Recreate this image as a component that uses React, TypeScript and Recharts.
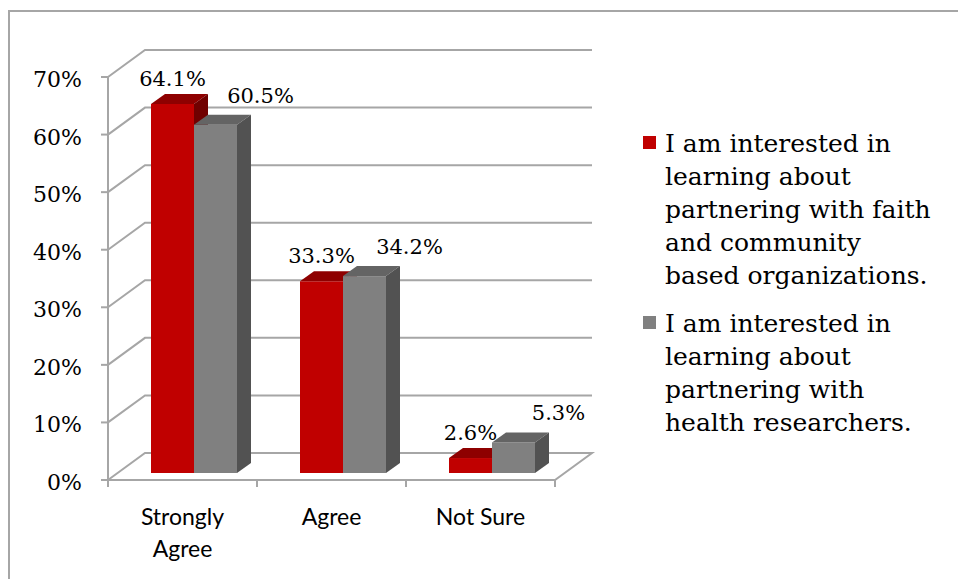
import { BarChart, Bar, XAxis, YAxis, CartesianGrid, Legend, LabelList } from "recharts";

const categories = ["Strongly\nAgree", "Agree", "Not Sure"];
const faithValues = [64.1, 33.3, 2.6];
const researchValues = [60.5, 34.2, 5.3];
const yTicks = [0, 10, 20, 30, 40, 50, 60, 70];
const faithLegend = [
  "I am interested in",
  "learning about",
  "partnering with faith",
  "and community",
  "based organizations.",
];
const researchLegend = [
  "I am interested in",
  "learning about",
  "partnering with",
  "health researchers.",
];

const data = categories.map((name, i) => ({
  name,
  faith: faithValues[i],
  research: researchValues[i],
}));

// layout of the fake 3d box
const PLOT_LEFT = 108;
const PLOT_RIGHT = 555;
const PLOT_TOP = 77;
const PLOT_BOTTOM = 480;
const BAND = (PLOT_RIGHT - PLOT_LEFT) / categories.length;
const WALL_DX = 37;
const WALL_DY = 27;
const BAR_SHIFT_X = 11;
const BAR_SHIFT_Y = 7;
const BAR_DX = 14;
const BAR_DY = 10;
const GRID = "#a6a6a6";
const SERIF = "'DejaVu Serif', serif";

const colors = {
  faith: { front: "#c00000", top: "#8e0000", side: "#700000" },
  research: { front: "#808080", top: "#646464", side: "#525252" },
};

const bar3d = (c: { front: string; top: string; side: string }) => (props: any) => {
  const { x, y, width, height } = props;
  if (height == null || width == null) return null;
  const fx = x + BAR_SHIFT_X;
  const fy = y - BAR_SHIFT_Y;
  const top = `${fx},${fy} ${fx + BAR_DX},${fy - BAR_DY} ${fx + width + BAR_DX},${fy - BAR_DY} ${fx + width},${fy}`;
  const side = `${fx + width},${fy} ${fx + width + BAR_DX},${fy - BAR_DY} ${fx + width + BAR_DX},${fy - BAR_DY + height} ${fx + width},${fy + height}`;
  return (
    <g>
      <rect x={fx} y={fy} width={width} height={height} fill={c.front} />
      <polygon points={top} fill={c.top} />
      <polygon points={side} fill={c.side} />
    </g>
  );
};

const valueLabel = (dx: number, lift: number) => (props: any) => {
  const { x, y, width, value } = props;
  return (
    <text
      x={x + BAR_SHIFT_X + width / 2 + dx}
      y={y - BAR_SHIFT_Y - BAR_DY - lift}
      textAnchor="middle"
      fontFamily={SERIF}
      fontSize={21}
      fill="#000"
    >
      {value.toFixed(1)}%
    </text>
  );
};

const gridLine = (props: any) => {
  const { x1, x2, y1, key } = props;
  if (Math.abs(y1 - PLOT_BOTTOM) < 0.5) {
    const d = `M${x1},${y1} L${x1 + WALL_DX},${y1 - WALL_DY} L${x2 + WALL_DX},${y1 - WALL_DY} L${x2},${y1} Z`;
    return <path key={key} d={d} fill="none" stroke={GRID} strokeWidth={2} />;
  }
  const pts = `${x1},${y1} ${x1 + WALL_DX},${y1 - WALL_DY} ${x2 + WALL_DX},${y1 - WALL_DY}`;
  return <polyline key={key} points={pts} fill="none" stroke={GRID} strokeWidth={2} />;
};

const YTick = (props: any) => {
  const { x, y, payload } = props;
  return (
    <text x={x} y={y + 10} textAnchor="end" fontFamily={SERIF} fontSize={22} fill="#000">
      {payload.value}%
    </text>
  );
};

const XTick = (props: any) => {
  const { x, y, payload, index } = props;
  const lines = String(payload.value).split("\n");
  return (
    <g>
      <line x1={x - BAND / 2} y1={y} x2={x - BAND / 2} y2={y + 7} stroke={GRID} strokeWidth={2} />
      {index === categories.length - 1 && (
        <line x1={x + BAND / 2} y1={y} x2={x + BAND / 2} y2={y + 7} stroke={GRID} strokeWidth={2} />
      )}
      {lines.map((l, i) => (
        <text
          key={i}
          x={x}
          y={y + 45 + i * 32}
          textAnchor="middle"
          fontFamily="Lato, sans-serif"
          fontSize={23}
          fill="#000"
        >
          {l}
        </text>
      ))}
    </g>
  );
};

const renderLegend = (props: any) => {
  const { payload } = props;
  const texts = [faithLegend, researchLegend];
  return (
    <div style={{ fontFamily: SERIF, fontSize: 25, lineHeight: "33px", color: "#000" }}>
      {(payload || []).map((entry: any, i: number) => (
        <div key={i} style={{ position: "relative", paddingLeft: 22, marginBottom: 15, whiteSpace: "nowrap" }}>
          <span
            style={{
              position: "absolute",
              left: 0,
              top: 9,
              width: 13,
              height: 13,
              background: entry.color,
            }}
          />
          {texts[i].map((t) => (
            <div key={t}>{t}</div>
          ))}
        </div>
      ))}
    </div>
  );
};

export default function App() {
  return (
    <div
      style={{
        position: "absolute",
        left: 0,
        top: 0,
        width: 958,
        height: 579,
        overflow: "hidden",
        background: "#fff",
      }}
    >
      <div
        style={{
          position: "absolute",
          left: 8,
          top: 10,
          width: 960,
          height: 580,
          borderLeft: "2px solid #a6a6a6",
          borderTop: "2px solid #a6a6a6",
        }}
      />
      <div style={{ position: "absolute", left: 0, top: 0 }}>
        <BarChart
          width={958}
          height={579}
          data={data}
          barSize={43}
          barGap={0}
          margin={{ top: PLOT_TOP, right: 958 - PLOT_RIGHT, bottom: 9, left: PLOT_LEFT - 60 }}
        >
          <CartesianGrid vertical={false} horizontal={gridLine} />
          <XAxis
            dataKey="name"
            height={90}
            axisLine={false}
            tickLine={false}
            tickSize={0}
            tickMargin={0}
            interval={0}
            tick={<XTick />}
          />
          <YAxis
            width={60}
            domain={[0, 70]}
            ticks={yTicks}
            interval={0}
            axisLine={{ stroke: GRID, strokeWidth: 2 }}
            tickLine={{ stroke: GRID, strokeWidth: 2 }}
            tickSize={7}
            tickMargin={19}
            tick={<YTick />}
          />
          <Legend
            content={renderLegend}
            wrapperStyle={{ position: "absolute", left: 643, top: 127, width: 0, height: 0, overflow: "visible" }}
          />
          <Bar
            dataKey="faith"
            name={faithLegend.join(" ")}
            fill={colors.faith.front}
            shape={bar3d(colors.faith)}
            isAnimationActive={false}
          >
            <LabelList dataKey="faith" content={valueLabel(0, 8)} />
          </Bar>
          <Bar
            dataKey="research"
            name={researchLegend.join(" ")}
            fill={colors.research.front}
            shape={bar3d(colors.research)}
            isAnimationActive={false}
          >
            <LabelList dataKey="research" content={valueLabel(45, 12)} />
          </Bar>
        </BarChart>
      </div>
    </div>
  );
}
